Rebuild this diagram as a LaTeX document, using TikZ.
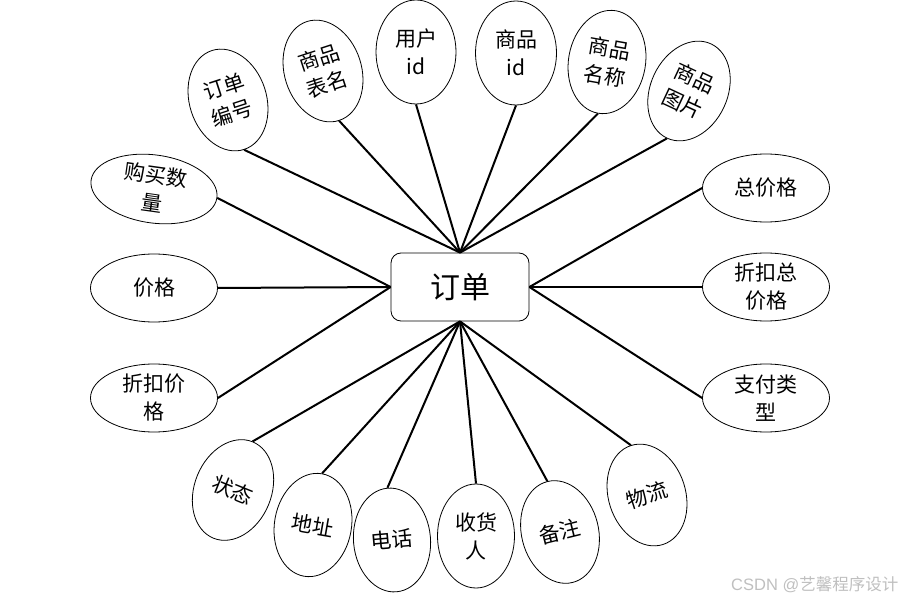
\documentclass[tikz,border=0pt]{standalone}
\usepackage{fontspec}
\usepackage{tikz}
\usetikzlibrary{shapes.geometric}
\setmainfont{Noto Sans CJK SC}
\newfontfamily\wmfont{Liberation Sans}
\newfontfamily\wmcjk{Noto Sans CJK SC}

\begin{document}
\begin{tikzpicture}[x=1pt, y=-1pt, every node/.style={font=\fontsize{21}{28}\selectfont, align=center}]
\tikzset{ent/.style={draw, line width=0.8pt, rounded corners=10pt, minimum width=138pt, minimum height=68pt, inner sep=0pt, font=\fontsize{30}{34}\selectfont}}
\tikzset{attv/.style={draw, ellipse, line width=0.8pt, minimum width=77pt, minimum height=104pt, inner sep=0pt}}
\tikzset{atth/.style={draw, ellipse, line width=0.8pt, minimum width=127pt, minimum height=68pt, inner sep=0pt}}
\tikzset{conn/.style={line width=2pt}}
\useasboundingbox (0,0) rectangle (907,601);

% Center entity
\node[ent] (ord) at (460,287) {订单};

% Top attributes
\node[attv, rotate=18] (num) at (228,100) {订单\\编号};
\node[attv, rotate=18] (tbl) at (323,71) {商品\\表名};
\node[attv, minimum width=80pt] (uid) at (416,52) {用户\\id};
\node[attv, minimum width=81pt] (gid) at (516,53) {商品\\id};
\node[attv, rotate=-10] (gname) at (607,62) {商品\\名称};
\node[attv, rotate=-25] (gimg) at (689,91) {商品\\图片};
\draw[conn] (num.south)--(ord.north); \draw[conn] (tbl.south)--(ord.north); \draw[conn] (uid.south)--(ord.north);
\draw[conn] (gid.south)--(ord.north); \draw[conn] (gname.south)--(ord.north); \draw[conn] (gimg.south)--(ord.north);

% Left attributes
\node[atth, rotate=-8] (qty) at (154,189) {购买数\\量};
\node[atth] (price) at (154,288) {价格};
\node[atth] (dprice) at (154,398) {折扣价\\格};
\draw[conn] (qty.east)--(ord.west); \draw[conn] (price.east)--(ord.west); \draw[conn] (dprice.east)--(ord.west);

% Right attributes
\node[atth] (total) at (766,188) {总价格};
\node[atth] (dtotal) at (766,287) {折扣总\\价格};
\node[atth] (pay) at (766,398) {支付类\\型};
\draw[conn] (total.west)--(ord.east); \draw[conn] (dtotal.west)--(ord.east); \draw[conn] (pay.west)--(ord.east);

% Bottom attributes
\node[attv, rotate=-22] (state) at (233,490) {状态};
\node[attv, rotate=-10] (addr) at (313,525) {地址};
\node[attv, rotate=5] (tel) at (392,540) {电话};
\node[attv] (recv) at (476,536) {收货\\人};
\node[attv, rotate=14] (note) at (560,532) {备注};
\node[attv, rotate=18] (ship) at (647,495) {物流};
\draw[conn] (state.north)--(ord.south); \draw[conn] (addr.north)--(ord.south); \draw[conn] (tel.north)--(ord.south);
\draw[conn] (recv.north)--(ord.south); \draw[conn] (note.north)--(ord.south); \draw[conn] (ship.north)--(ord.south);

% Watermark
\node[anchor=west, text=black!25, font=\fontsize{16.5}{20}\selectfont, inner sep=0pt] (wm) at (731,585) {{\wmfont CSDN @}{\wmcjk 艺馨程序设计}};
\end{tikzpicture}
\end{document}
